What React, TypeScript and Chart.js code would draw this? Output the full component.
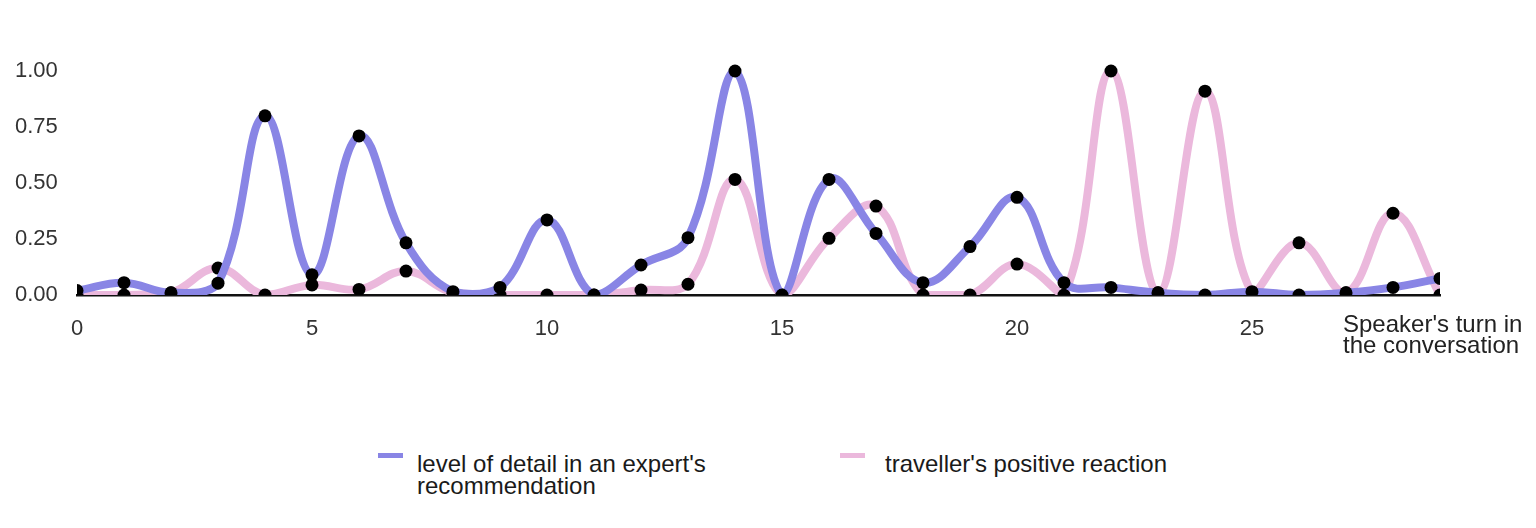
import React, { useEffect, useRef } from "react";
import { Chart, registerables } from "chart.js";

Chart.register(...registerables);

const turns = [0, 1, 2, 3, 4, 5, 6, 7, 8, 9, 10, 11, 12, 13, 14, 15, 16, 17, 18, 19, 20, 21, 22, 23, 24, 25, 26, 27, 28, 29];
const expertDetail = [0.02, 0.055, 0.01, 0.053, 0.8, 0.09, 0.71, 0.233, 0.015, 0.034, 0.335, 0, 0.134, 0.256, 1.0, 0, 0.516, 0.275, 0.055, 0.216, 0.436, 0.055, 0.034, 0.01, 0, 0.015, 0, 0.01, 0.034, 0.074];
const travellerReaction = [0, 0, 0.01, 0.12, 0, 0.045, 0.025, 0.107, 0.01, 0, 0, 0, 0.022, 0.048, 0.516, 0, 0.253, 0.397, 0, 0, 0.138, 0, 1.0, 0.01, 0.91, 0.01, 0.233, 0.01, 0.365, 0];
const yTicks = [0, 0.25, 0.5, 0.75, 1.0];
const xTickStep = 5;
const seriesNames = ["level of detail in an expert's recommendation", "traveller's positive reaction"];
const axisTitle = ["Speaker's turn in", "the conversation"];

const BLUE = "#8985e5";
const PINK = "#ebb8dc";
const FONT = "'Liberation Sans', Arial, sans-serif";

const titlePlugin = {
  id: "xTitle",
  afterDraw(chart: any) {
    const { ctx, chartArea } = chart;
    ctx.save();
    ctx.font = `24px ${FONT}`;
    ctx.fillStyle = "#222";
    ctx.textAlign = "left";
    ctx.textBaseline = "alphabetic";
    const x = chartArea.right - 97;
    ctx.fillText(axisTitle[0], x, chartArea.bottom + 37);
    ctx.fillText(axisTitle[1], x, chartArea.bottom + 58);
    ctx.restore();
  },
};

export default function App() {
  const ref = useRef<HTMLCanvasElement>(null);

  useEffect(() => {
    if (!ref.current) return;
    const common = {
      borderWidth: 8,
      tension: 0.4,
      pointRadius: 6.5,
      pointHoverRadius: 6.5,
      pointBackgroundColor: "#000",
      pointBorderWidth: 0,
      clip: { left: 0, right: 0, bottom: 0, top: false } as any,
    };
    const chart = new Chart(ref.current, {
      type: "line",
      data: {
        datasets: [
          {
            label: seriesNames[0],
            data: turns.map((t, i) => ({ x: t, y: expertDetail[i] })),
            borderColor: BLUE,
            ...common,
          },
          {
            label: seriesNames[1],
            data: turns.map((t, i) => ({ x: t, y: travellerReaction[i] })),
            borderColor: PINK,
            ...common,
          },
        ],
      },
      options: {
        animation: false,
        responsive: true,
        maintainAspectRatio: false,
        events: [],
        layout: { padding: { left: 7, right: 88, top: 63, bottom: 0 } },
        plugins: { legend: { display: false }, tooltip: { enabled: false } },
        scales: {
          x: {
            type: "linear",
            min: 0,
            max: turns[turns.length - 1],
            z: 1,
            grid: { display: false },
            border: { display: true, color: "#111", width: 2.5 },
            ticks: {
              stepSize: xTickStep,
              includeBounds: false,
              padding: 13,
              color: "#333",
              font: { family: FONT, size: 22 },
              callback: (v: any) => (Number(v) % xTickStep === 0 ? String(v) : ""),
            },
            afterFit: (s: any) => {
              s.height = 60;
            },
          },
          y: {
            min: yTicks[0],
            max: yTicks[yTicks.length - 1],
            grid: { display: false },
            border: { display: false },
            afterBuildTicks: (s: any) => {
              s.ticks = yTicks.map((v) => ({ value: v }));
            },
            ticks: {
              crossAlign: "far",
              color: "#333",
              font: { family: FONT, size: 22 },
              callback: (v: any) => Number(v).toFixed(2),
            },
            afterFit: (s: any) => {
              s.width = 62;
            },
          },
        },
      },
      plugins: [titlePlugin],
    });
    return () => chart.destroy();
  }, []);

  const legendText: React.CSSProperties = {
    position: "absolute",
    top: 445,
    fontSize: 24,
    lineHeight: "22px",
    color: "#1a1a1a",
    fontFamily: FONT,
  };
  const swatch: React.CSSProperties = { position: "absolute", top: 445, width: 25, height: 5 };

  return (
    <div style={{ position: "relative", width: 1520, height: 512, fontFamily: FONT, background: "#fff" }}>
      <div style={{ position: "absolute", left: 0, top: 0, width: 1520, height: 347 }}>
        <canvas ref={ref} />
      </div>
      <div style={{ ...swatch, left: 370, background: BLUE }} />
      <div style={{ ...legendText, left: 409, width: 320 }}>
        level of detail in an expert's
        <br />
        recommendation
      </div>
      <div style={{ ...swatch, left: 832, background: PINK }} />
      <div style={{ ...legendText, left: 877 }}>{seriesNames[1]}</div>
    </div>
  );
}
